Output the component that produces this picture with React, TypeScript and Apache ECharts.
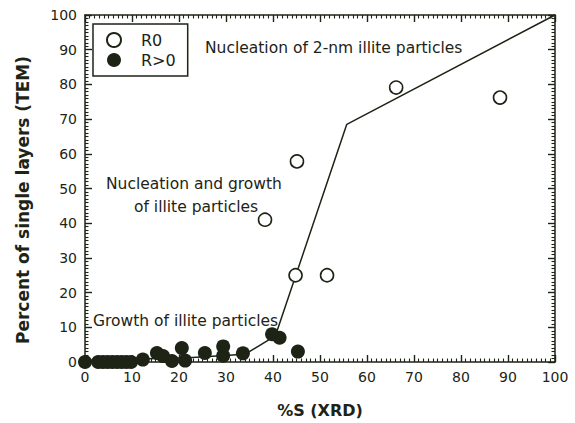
import React, { useEffect, useRef } from "react";
import * as echarts from "echarts";

// Data
const r0Points: [number, number][] = [
  [38.3, 41],
  [45.1, 57.8],
  [44.8, 25],
  [51.5, 25],
  [66.2, 79.1],
  [88.3, 76.2],
];

const rGt0Points: [number, number][] = [
  [0, 0], [2.8, 0], [3.8, 0], [4.8, 0], [5.8, 0], [6.8, 0], [7.8, 0], [8.8, 0], [9.8, 0],
  [12.3, 0.7], [15.3, 2.6], [16.6, 1.7], [18.5, 0.3], [20.6, 4], [21.3, 0.4],
  [25.5, 2.6], [29.4, 4.5], [29.4, 1.8], [33.6, 2.5], [39.8, 8], [41.4, 7], [45.3, 3],
];

const trendLine: [number, number][] = [
  [0, 0.5],
  [22, 1.2],
  [34, 2.2],
  [40.5, 7.5],
  [55.7, 68.5],
  [100, 100],
];

const axisTicks = { min: 0, max: 100, interval: 10 };
const xTitle = "%S (XRD)";
const yTitle = "Percent of single layers (TEM)";

const INK = "#1d2416";
const FONT = "DejaVu Sans, Verdana, sans-serif";

function makeAxis(gridIndex: number, position: string, labels: boolean, inverse: boolean) {
  return {
    type: "value",
    gridIndex,
    position,
    inverse,
    min: axisTicks.min,
    max: axisTicks.max,
    interval: axisTicks.interval,
    axisLine: { show: true, lineStyle: { color: INK, width: 1.5 } },
    axisTick: { show: true, inside: true, length: 7, lineStyle: { color: INK, width: 1.4 } },
    minorTick: { show: true, splitNumber: 10, length: 3.5, lineStyle: { color: INK, width: 1.1 } },
    splitLine: { show: false },
    axisLabel: labels
      ? { show: true, fontSize: 14, color: INK, margin: 8, fontFamily: FONT }
      : { show: false },
  };
}

export default function App() {
  const ref = useRef<HTMLDivElement>(null);
  useEffect(() => {
    if (!ref.current) return;
    const chart = echarts.init(ref.current, undefined, { renderer: "svg" });
    const gridBox = { left: 85, right: 20, top: 15, bottom: 61 };
    chart.setOption({
      animation: false,
      backgroundColor: "#ffffff",
      textStyle: { fontFamily: FONT, color: INK },
      grid: [gridBox, gridBox],
      legend: {
        show: true,
        data: ["R0", "R>0"],
        orient: "vertical",
        left: 93,
        top: 24,
        padding: [8, 12, 8, 13],
        itemWidth: 14,
        itemHeight: 14,
        itemGap: 4,
        borderColor: INK,
        borderWidth: 1.5,
        borderRadius: 0,
        textStyle: { fontSize: 16, color: INK, fontFamily: FONT, padding: [0, 0, 0, 15] },
      },
      xAxis: [
        makeAxis(0, "bottom", true, false),
        makeAxis(1, "top", false, true),
      ],
      yAxis: [
        makeAxis(0, "left", true, false),
        makeAxis(1, "right", false, true),
      ],
      graphic: [
        {
          type: "text",
          x: 23,
          y: 200,
          rotation: Math.PI / 2,
          style: {
            text: yTitle,
            fontSize: 17,
            fontWeight: "bold",
            fill: INK,
            fontFamily: FONT,
            align: "center",
            verticalAlign: "middle",
          },
        },
        {
          type: "text",
          x: 320,
          y: 410,
          style: {
            text: xTitle,
            fontSize: 16,
            fontWeight: "bold",
            fill: INK,
            fontFamily: FONT,
            align: "center",
            verticalAlign: "middle",
          },
        },
        { type: "text", left: 205, top: 40, style: { text: "Nucleation of 2-nm illite particles", fontSize: 15.5, fill: INK, fontFamily: FONT } },
        { type: "text", left: 106, top: 176, style: { text: "Nucleation and growth", fontSize: 15.5, fill: INK, fontFamily: FONT } },
        { type: "text", left: 134, top: 199, style: { text: "of illite particles", fontSize: 15.5, fill: INK, fontFamily: FONT } },
        { type: "text", left: 93, top: 313, style: { text: "Growth of illite particles", fontSize: 15.5, fill: INK, fontFamily: FONT } },
      ],
      series: [
        {
          name: "trend",
          type: "line",
          xAxisIndex: 0,
          yAxisIndex: 0,
          data: trendLine,
          symbol: "none",
          lineStyle: { color: INK, width: 1.5 },
          z: 1,
        },
        {
          name: "R0",
          type: "scatter",
          xAxisIndex: 0,
          yAxisIndex: 0,
          data: r0Points,
          symbol: "circle",
          symbolSize: 13,
          itemStyle: { color: "#ffffff", borderColor: INK, borderWidth: 1.6, opacity: 1 },
          z: 3,
        },
        {
          name: "R>0",
          type: "scatter",
          xAxisIndex: 0,
          yAxisIndex: 0,
          data: rGt0Points,
          symbol: "circle",
          symbolSize: 14,
          itemStyle: { color: INK, opacity: 1 },
          z: 4,
        },
      ],
    });
    return () => chart.dispose();
  }, []);
  return (
    <div
      ref={ref}
      style={{ position: "absolute", left: 0, top: 0, width: 575, height: 423 }}
    />
  );
}
